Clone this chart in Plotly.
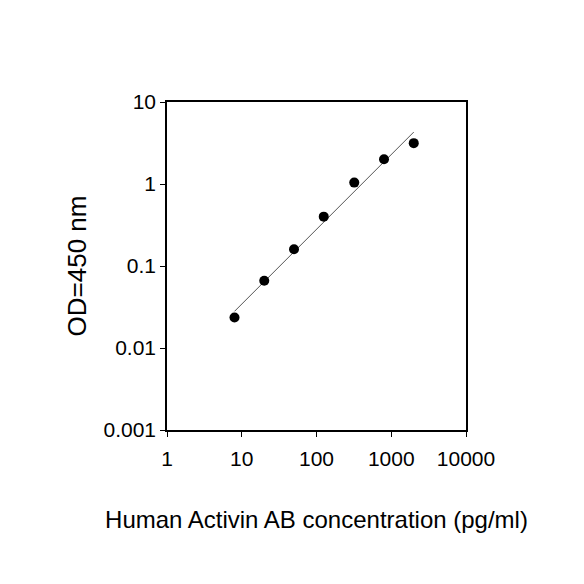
"""
Courbe standard ELISA - Human Activin AB (log-log)
"""

import plotly.graph_objects as go

# ─── Données ─────────────────────────────────────────────────────
concentration = [8, 20, 50, 125, 320, 800, 2000]          # pg/ml
od_450 = [0.0235, 0.066, 0.16, 0.40, 1.04, 2.0, 3.15]

# droite d'ajustement (extrémités)
fit_x = [8, 2000]
fit_y = [0.028, 4.3]

x_ticks = [1, 10, 100, 1000, 10000]
y_ticks = [0.001, 0.01, 0.1, 1, 10]

FONT = "Liberation Sans, Arial, sans-serif"

fig = go.Figure()

fig.add_trace(go.Scatter(
    x=fit_x, y=fit_y,
    mode="lines",
    line=dict(color="#555555", width=1),
    showlegend=False,
))

fig.add_trace(go.Scatter(
    x=concentration, y=od_450,
    mode="markers",
    marker=dict(color="black", size=10),
    showlegend=False,
))

axis_common = dict(
    type="log",
    showgrid=False,
    zeroline=False,
    showline=True,
    linecolor="black",
    linewidth=1.5,
    mirror=True,
    ticks="outside",
    ticklen=5,
    tickwidth=1.2,
    tickcolor="black",
    tickfont=dict(family=FONT, size=21, color="black"),
)

fig.update_xaxes(
    range=[0, 4],
    tickvals=x_ticks,
    ticktext=[str(v) for v in x_ticks],
    ticklabelstandoff=4,
    title=dict(text="Human Activin AB concentration (pg/ml)",
               font=dict(family=FONT, size=24, color="black"), standoff=42),
    **axis_common,
)
fig.update_yaxes(
    range=[-3, 1],
    tickvals=y_ticks,
    ticktext=["0.001", "0.01", "0.1", "1", "10"],
    title=dict(text="OD=450 nm",
               font=dict(family=FONT, size=26, color="black"), standoff=9),
    **axis_common,
)

# la page html ajoute ~8 px de marge au body
fig.update_layout(
    width=584, height=584,
    paper_bgcolor="white",
    plot_bgcolor="white",
    margin=dict(l=159, r=126, t=94, b=162),
)

fig.write_html("out.html")
